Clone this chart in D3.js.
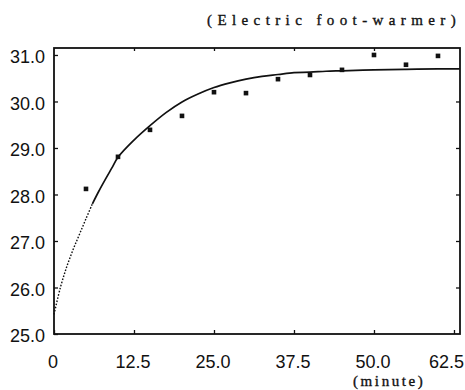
<!DOCTYPE html>
<html>
<head>
<meta charset="utf-8">
<script src="https://cdn.jsdelivr.net/npm/d3@7"></script>
<style>
  body { margin: 0; background: #fff; }
  .tick text { font-family: "Liberation Sans", Arial, sans-serif; font-size: 18px; fill: #111; }
  .note { font-family: "Liberation Serif", "Times New Roman", serif; font-size: 15px; fill: #111; stroke: #111; stroke-width: 0.35; }
</style>
</head>
<body>
<script>
// Measured points (minute, temperature)
var sampleMinutes = [5, 10, 15, 20, 25, 30, 35, 40, 45, 50, 55, 60];
var sampleTemps = [28.12, 28.81, 29.39, 29.69, 30.20, 30.18, 30.48, 30.57, 30.68, 31.0, 30.79, 30.98];

// Fitted curve
var curveMinutes = [0, 1, 2, 3, 4, 5, 6, 7, 8, 9, 10, 12.5, 15, 17.5, 20, 22.5, 25, 27.5, 30, 32.5, 35, 37.5, 40, 42.5, 45, 50, 55, 60, 63.4];
var curveTemps = [25.42, 26.0, 26.45, 26.82, 27.15, 27.48, 27.80, 28.07, 28.32, 28.56, 28.80, 29.17, 29.48, 29.76, 29.99, 30.16, 30.30, 30.40, 30.48, 30.54, 30.58, 30.62, 30.63, 30.65, 30.66, 30.68, 30.69, 30.70, 30.70];

var xTicks = [0, 12.5, 25, 37.5, 50, 62.5];
var xTickLabels = ["0", "12.5", "25.0", "37.5", "50.0", "62.5"];
var yTicks = [25, 26, 27, 28, 29, 30, 31];
var yTickLabels = ["25.0", "26.0", "27.0", "28.0", "29.0", "30.0", "31.0"];

var width = 465,
    height = 390;
var plotL = 54, plotR = 460, plotT = 48, plotB = 334;

var x = d3.scaleLinear().domain([0, 63.44]).range([plotL, plotR]);
var y = d3.scaleLinear().domain([25, 31.15]).range([plotB, plotT]);

var svg = d3.select("body")
    .append("svg")
    .attr("width", width)
    .attr("height", height);

// frame
svg.append("rect")
    .attr("x", plotL)
    .attr("y", plotT)
    .attr("width", plotR - plotL)
    .attr("height", plotB - plotT)
    .attr("fill", "none")
    .attr("stroke", "#111")
    .attr("stroke-width", 1.8);

// left axis, ticks pointing inward
var yAxis = svg.append("g")
    .attr("transform", "translate(" + plotL + ",0)")
    .call(d3.axisLeft(y)
        .tickValues(yTicks)
        .tickFormat(function (d, i) { return yTickLabels[i]; })
        .tickSizeInner(-4)
        .tickSizeOuter(0)
        .tickPadding(9));
yAxis.select(".domain").remove();
yAxis.selectAll("text").attr("dy", "0.42em");

// right side inward ticks
var rAxis = svg.append("g")
    .attr("transform", "translate(" + plotR + ",0)")
    .call(d3.axisRight(y).tickValues(yTicks.slice(1, -1)).tickSizeInner(-4).tickSizeOuter(0).tickFormat(""));
rAxis.select(".domain").remove();

// bottom axis
var xAxis = svg.append("g")
    .attr("transform", "translate(0," + plotB + ")")
    .call(d3.axisBottom(x)
        .tickValues(xTicks)
        .tickFormat(function (d, i) { return xTickLabels[i]; })
        .tickSizeInner(-4)
        .tickSizeOuter(0)
        .tickPadding(21));
xAxis.select(".domain").remove();
xAxis.selectAll("text")
    .attr("dx", function (d, i) { return i === xTicks.length - 1 ? -8 : -1.5; });

// top side inward ticks
var tAxis = svg.append("g")
    .attr("transform", "translate(0," + plotT + ")")
    .call(d3.axisTop(x).tickValues(xTicks.slice(1, -1)).tickSizeInner(-3).tickSizeOuter(0).tickFormat(""));
tAxis.select(".domain").remove();

svg.selectAll(".tick line").attr("stroke", "#111").attr("stroke-width", 1.3);

// curve: dotted start, solid after
var curveData = curveMinutes.map(function (m, i) { return [m, curveTemps[i]]; });
var line = d3.line()
    .x(function (d) { return x(d[0]); })
    .y(function (d) { return y(d[1]); })
    .curve(d3.curveCatmullRom.alpha(0.5));

svg.append("path")
    .datum(curveData.filter(function (d) { return d[0] <= 6; }))
    .attr("d", line)
    .attr("fill", "none")
    .attr("stroke", "#111")
    .attr("stroke-width", 1.4)
    .attr("stroke-dasharray", "1.6,1.6");

svg.append("path")
    .datum(curveData.filter(function (d) { return d[0] >= 6; }))
    .attr("d", line)
    .attr("fill", "none")
    .attr("stroke", "#111")
    .attr("stroke-width", 1.7);

// measured squares
svg.selectAll(".pt")
    .data(sampleMinutes)
    .enter()
    .append("rect")
    .attr("class", "pt")
    .attr("x", function (d) { return x(d) - 2.3; })
    .attr("y", function (d, i) { return y(sampleTemps[i]) - 2.3; })
    .attr("width", 4.6)
    .attr("height", 4.6)
    .attr("fill", "#111");

// labels
svg.append("text")
    .attr("class", "note")
    .attr("x", 207)
    .attr("y", 25)
    .style("letter-spacing", "5.4px")
    .text("(Electric foot-warmer)");

svg.append("text")
    .attr("class", "note")
    .attr("x", 353)
    .attr("y", 386)
    .style("letter-spacing", "2.6px")
    .text("(minute)");
</script>
</body>
</html>
